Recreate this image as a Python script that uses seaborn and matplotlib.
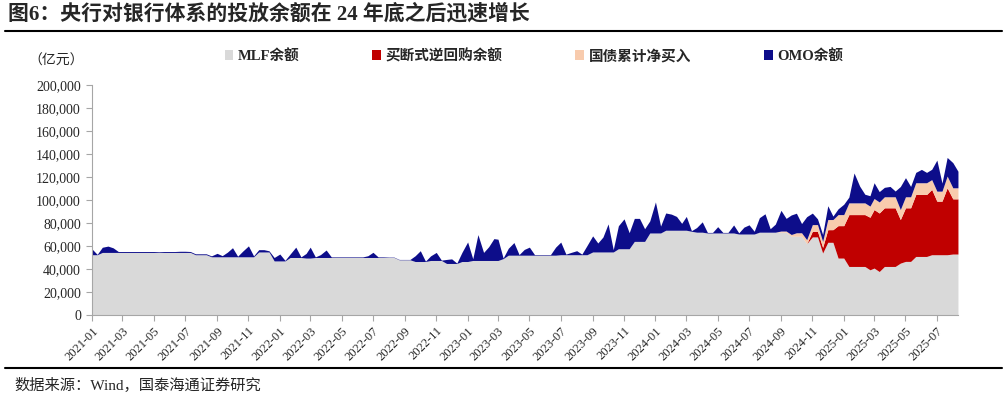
import pandas as pd
import seaborn as sns
import matplotlib.pyplot as plt
import matplotlib.dates as mdates
from matplotlib.patches import Patch
from matplotlib.lines import Line2D
from matplotlib.ticker import FuncFormatter

sns.set_style('ticks')
plt.rcParams['font.family'] = ['Liberation Serif', 'Noto Sans CJK SC', 'DejaVu Sans']
plt.rcParams['axes.unicode_minus'] = False

# 取样日期：每月1日、11日、21日，2021-01-01 至 2025-08-11
dates = [f'{y}-{m:02d}-{d:02d}' for y in range(2021, 2026) for m in range(1, 13) for d in (1, 11, 21)][:167]

# MLF余额（亿元）
mlf = [
    # 2021
    52400, 52400, 54400, 54400, 54400, 54400, 54400, 54400, 54400, 54400, 54400, 54400,
    54400, 54400, 54400, 54400, 54400, 54400, 54400, 54400, 52400, 52400, 52400, 50600,
    50600, 50600, 50600, 50600, 50600, 50600, 50600, 50600, 54800, 54800, 54800, 47000,
    # 2022
    47000, 47000, 50000, 50000, 50000, 49500, 49500, 50000, 50000, 50000, 50000, 50000,
    50000, 50000, 50000, 50000, 50000, 50000, 50000, 50000, 50000, 50000, 50000, 48000,
    48000, 48000, 46500, 46500, 46500, 47400, 47400, 47400, 44800, 44800, 44800, 46500,
    # 2023
    46500, 47400, 47400, 47400, 47400, 47400, 47400, 49000, 52000, 52000, 52000, 52000,
    52000, 52000, 52000, 52000, 52000, 52000, 52400, 52400, 52400, 52400, 52400, 52400,
    54800, 54800, 54800, 54800, 54800, 57600, 57600, 57600, 64000, 64000, 64000, 71300,
    # 2024
    71300, 71300, 73700, 73700, 73700, 73700, 73700, 72800, 72000, 72000, 71300, 71300,
    71300, 71300, 71300, 71300, 70400, 70400, 70400, 70400, 72000, 72000, 72000, 72000,
    72000, 72000, 68500, 68500, 68500, 62000, 67900, 67900, 53900, 63200, 63200, 49500,
    # 2025
    49500, 42200, 42200, 42200, 42200, 39300, 40800, 37800, 42200, 42200, 42200, 45100,
    46600, 46600, 50900, 50900, 50900, 52400, 52400, 52400, 52400, 53000, 53000,
]

# 买断式逆回购余额（2024年11月前为0）
outright = [0] * 138 + [
    4900, 4900, 4900, 11000, 11000, 28200,
    # 2025
    28200, 45100, 45100, 45100, 45100, 45700, 50900, 50900, 51000, 51000, 51000, 37900,
    46600, 46600, 53900, 53900, 53900, 56800, 46600, 46600, 58200, 48000, 48000,
]

# 国债累计净买入（2024年9月前为0）
bonds = [0] * 132 + [
    1000, 1000, 1500, 3000, 3000, 3500, 5800, 5800, 5200, 8800, 8800, 9600,
    # 2025
    9600, 10200, 10200, 10200, 10200, 9700, 9600, 9600, 9600, 9600, 9600, 8700,
    9600, 9600, 10200, 10200, 10200, 8500, 8700, 8700, 10200, 9600, 9600,
]

# OMO余额
omo = [
    # 2021
    5000, 300, 4500, 5500, 4000, 800, 800, 800, 800, 800, 800, 800,
    800, 600, 800, 800, 800, 1000, 1000, 800, 800, 800, 800, 800,
    3000, 1000, 4000, 7900, 500, 5000, 9500, 800, 2000, 2000, 1000, 3000,
    # 2022
    6000, 500, 3000, 9000, 500, 4000, 9500, 500, 2500, 6500, 500, 500,
    500, 500, 500, 500, 500, 1500, 4500, 500, 500, 300, 300, 300,
    300, 300, 5000, 9400, 300, 4000, 7000, 300, 3500, 4000, 300, 8000,
    # 2023
    17000, 1500, 22500, 7000, 12000, 19000, 18500, 500, 6000, 11000, 500, 5000,
    7000, 500, 500, 500, 500, 7000, 11000, 500, 2000, 3500, 500, 8000,
    14000, 7800, 13000, 24400, 2000, 20000, 26000, 14000, 20000, 20000, 11000, 10500,
    # 2024
    27000, 6000, 15000, 14000, 12000, 6000, 12000, 500, 4000, 9000, 500, 500,
    5500, 500, 500, 7000, 1000, 6000, 8000, 2400, 12600, 16000, 3000, 7000,
    18000, 11000, 17000, 17000, 8000, 20000, 10000, 5000, 6000, 12000, 3000, 5000,
    # 2025
    9000, 5000, 26000, 14500, 7500, 9000, 13700, 9000, 8200, 9000, 5000, 20000,
    16600, 9000, 9000, 11600, 9000, 9000, 27000, 7000, 16200, 21900, 14400,
]

labels = ['MLF余额', '买断式逆回购余额', '国债累计净买入', 'OMO余额']
colors = ['#D9D9D9', '#C00000', '#F8CBAD', '#0D0D8A']

df = pd.DataFrame({'date': pd.to_datetime(dates), labels[0]: mlf, labels[1]: outright,
                   labels[2]: bonds, labels[3]: omo})

fig = plt.figure(figsize=(10.07, 4.03), dpi=100)
ax = fig.add_axes([0.0914, 0.2184, 0.8599, 0.5707])
ax.stackplot(df['date'], df[labels[0]], df[labels[1]], df[labels[2]], df[labels[3]],
             colors=colors, linewidth=0)

ax.set_xlim(df['date'].iloc[0], df['date'].iloc[-1])
ax.set_ylim(0, 200000)
ax.set_yticks(range(0, 200001, 20000))
ax.yaxis.set_major_formatter(FuncFormatter(lambda v, p: f'{int(v):,}'))
ax.xaxis.set_major_locator(mdates.MonthLocator(bymonth=[1, 3, 5, 7, 9, 11]))
ax.xaxis.set_major_formatter(mdates.DateFormatter('%Y-%m'))
for t in ax.get_xticklabels():
    t.set_rotation(45)
    t.set_ha('right')
    t.set_rotation_mode('anchor')
ax.tick_params(axis='x', labelsize=9, length=4, color='#A6A6A6', pad=3)
ax.tick_params(axis='y', labelsize=10, length=4, color='#A6A6A6', pad=4)
sns.despine(ax=ax)
for s in ['left', 'bottom']:
    ax.spines[s].set_color('#A6A6A6')
ax.set_xlabel('')
ax.set_ylabel('')

handles = [Patch(facecolor=c, edgecolor='none') for c in colors]
fig.legend(handles, labels, loc='center', bbox_to_anchor=(0.530, 0.861), ncol=4,
           frameon=False, handlelength=0.6, handleheight=0.7, handletextpad=0.3,
           columnspacing=5.0, prop={'weight': 'bold', 'size': 10.5})

fig.text(0.0556, 1 - 61 / 403, '（亿元）', fontsize=10, ha='center', va='center')
fig.text(0.008, 1 - 14 / 403, '图6：央行对银行体系的投放余额在 24 年底之后迅速增长',
         fontsize=15, fontweight='bold', ha='left', va='center')
fig.text(0.014, 1 - 385 / 403, '数据来源：Wind，国泰海通证券研究', fontsize=11,
         ha='left', va='center')
fig.add_artist(Line2D([0.005, 0.995], [1 - 31 / 403] * 2, transform=fig.transFigure,
                      color='black', lw=1.5))
fig.add_artist(Line2D([0.005, 0.995], [1 - 368 / 403] * 2, transform=fig.transFigure,
                      color='black', lw=1.5))

fig.savefig('out.png', dpi=100)
